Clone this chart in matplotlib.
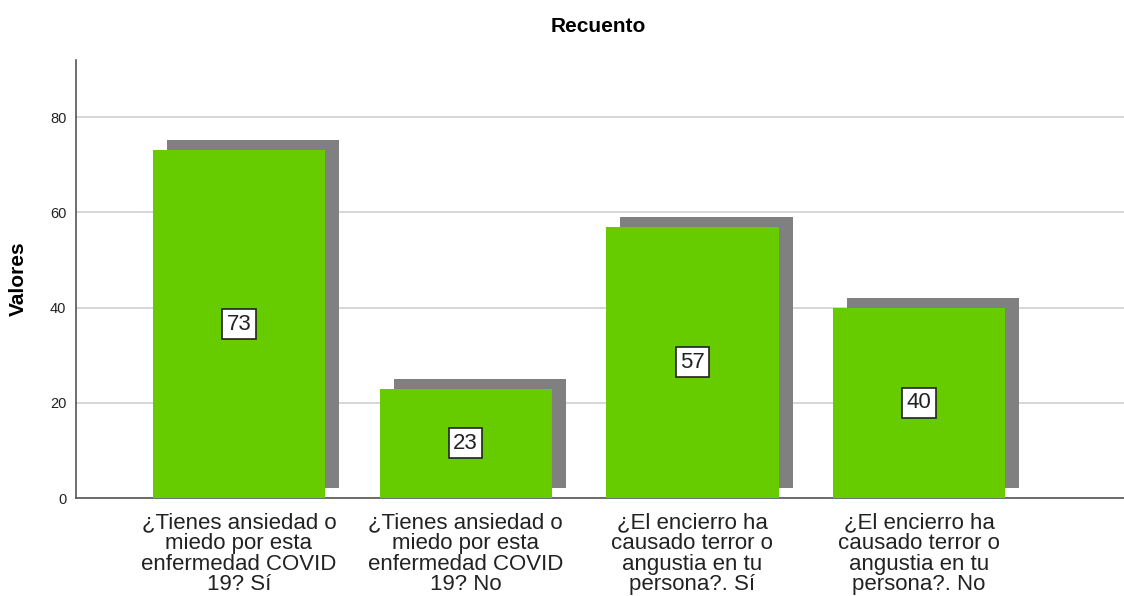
import matplotlib
matplotlib.use("Agg")
import matplotlib.pyplot as plt
import matplotlib.transforms as mtransforms

plt.rcParams['font.family'] = ['Liberation Sans', 'DejaVu Sans']

categories = [
    "¿Tienes ansiedad o\nmiedo por esta\nenfermedad COVID\n19? Sí",
    "¿Tienes ansiedad o\nmiedo por esta\nenfermedad COVID\n19? No",
    "¿El encierro ha\ncausado terror o\nangustia en tu\npersona?. Sí",
    "¿El encierro ha\ncausado terror o\nangustia en tu\npersona?. No",
]
counts = [73, 23, 57, 40]
y_ticks = [0, 20, 40, 60, 80]

bar_color = "#66CC00"
shadow_color = "#808080"

fig = plt.figure(figsize=(11.24, 5.96), dpi=100)
ax = fig.add_axes([0.0676, 0.1644, 0.9324, 0.7349])

x = list(range(len(categories)))
width = 0.76

# drop shadow: same bars shifted right and up by a few pixels
shadow_tr = mtransforms.offset_copy(ax.transData, fig=fig, x=14, y=10, units='dots')
ax.bar(x, counts, width=width, color=shadow_color, transform=shadow_tr, zorder=2)
ax.bar(x, counts, width=width, color=bar_color, zorder=3)

for xi, v in zip(x, counts):
    ax.text(xi, v / 2, str(v), ha='center', va='center', fontsize=16, zorder=5,
            color='#222222',
            bbox=dict(boxstyle='square,pad=0.2', facecolor='white',
                      edgecolor='#222222', linewidth=1.2))

ax.set_xlim(-0.719, 3.904)
ax.set_ylim(0, 92)
ax.set_yticks(y_ticks)
ax.yaxis.grid(True, color='#D0D0D0', linewidth=1.2, zorder=0)
ax.set_axisbelow(True)

ax.set_xticks(x)
ax.set_xticklabels(categories, fontsize=16, linespacing=0.97, color='#222222')
ax.tick_params(axis='x', length=0, pad=10.5)
ax.tick_params(axis='y', length=0, pad=7, labelsize=10.5, labelcolor='#222222')

for side in ('top', 'right'):
    ax.spines[side].set_visible(False)
ax.spines['left'].set_color('#555555')
ax.spines['bottom'].set_color('#555555')
ax.spines['left'].set_linewidth(1.2)
ax.spines['bottom'].set_linewidth(1.2)

ax.set_ylabel("Valores", fontsize=15, fontweight='bold')
ax.yaxis.set_label_coords(-0.046, 0.5)
fig.text(0.532, 0.956, "Recuento", ha='center', va='center', fontsize=15,
         fontweight='bold')

fig.savefig("out.png", dpi=100)
